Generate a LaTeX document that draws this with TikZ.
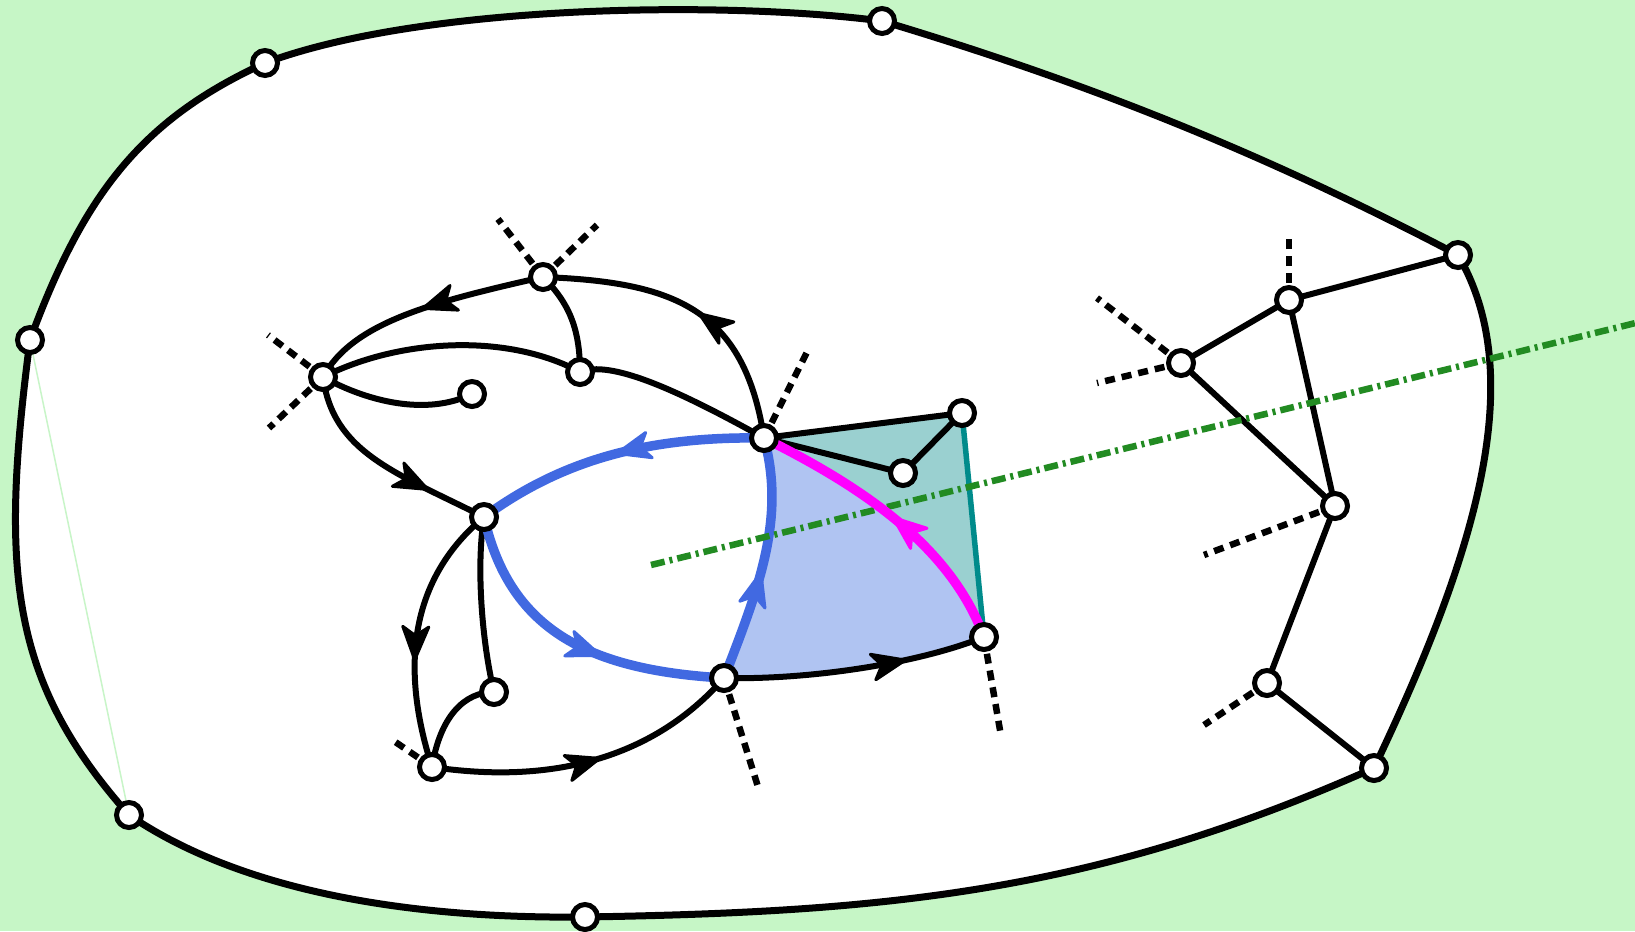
\documentclass[tikz,border=0pt]{standalone}
\usetikzlibrary{decorations.markings,backgrounds}
\definecolor{bgc}{RGB}{198,246,198}
\definecolor{tealfill}{RGB}{154,208,208}
\definecolor{lav}{RGB}{176,196,242}
\definecolor{royal}{RGB}{65,105,225}
\definecolor{tealline}{RGB}{0,139,139}
\definecolor{forest}{RGB}{34,139,34}
\definecolor{faintg}{RGB}{200,245,200}
\definecolor{mag}{RGB}{255,0,255}
\newcommand\midtip{\filldraw[line width=3bp,line join=round] (0,0) -- (-33,-13) -- (-24,0) -- (-33,13) -- cycle;}
\begin{document}
\begin{tikzpicture}[x=1bp,y=-1bp,
  vtx/.style={circle,draw=black,fill=white,line width=5bp,minimum size=25bp,inner sep=0pt},
  edge/.style={color=black,line width=6bp},
  bedge/.style={color=royal,line width=9.5bp},
  medge/.style={color=mag,line width=9.5bp},
  stub/.style={draw=black,line width=6.5bp,dash pattern=on 10bp off 7bp},
  axisline/.style={draw=forest,line width=6.5bp,dash pattern=on 14bp off 5bp on 3bp off 5bp},
  arr/.style={postaction={decorate},decoration={markings,mark=at position #1 with {\midtip}}}
]
\useasboundingbox (0,0) rectangle (1635,931);
% outer boundary nodes
\node[vtx] (B1) at (265,63) {};
\node[vtx] (B2) at (882,21) {};
\node[vtx] (B3) at (1458,255) {};
\node[vtx] (B4) at (1374,768) {};
\node[vtx] (B5) at (585,917) {};
\node[vtx] (B6) at (129,815) {};
\node[vtx] (B7) at (30,340) {};
% inner nodes
\node[vtx] (A) at (323,377) {};
\node[vtx] (T) at (543,277) {};
\node[vtx] (M) at (580,372) {};
\node[vtx] (L) at (472,394) {};
\node[vtx] (P) at (484,517) {};
\node[vtx] (Q) at (494,692) {};
\node[vtx] (R) at (432,767) {};
\node[vtx] (C) at (764,438) {};
\node[vtx] (D) at (724,678) {};
\node[vtx] (E) at (984,637) {};
\node[vtx] (F) at (962,413) {};
\node[vtx] (G) at (903,473) {};
\node[vtx] (H) at (1289,300) {};
\node[vtx] (I) at (1181,363) {};
\node[vtx] (J) at (1335,506) {};
\node[vtx] (K) at (1267,683) {};
% free ends
\coordinate (sT1) at (498,219);
\coordinate (sT2) at (597,225);
\coordinate (sA1) at (268,335);
\coordinate (sA2) at (269,428);
\coordinate (sC) at (807,352);
\coordinate (sR) at (391,739);
\coordinate (sD) at (759,790);
\coordinate (sE) at (1001,736);
\coordinate (sH) at (1289,235);
\coordinate (sI1) at (1097,298);
\coordinate (sI2) at (1097,383);
\coordinate (sJ) at (1204,555);
\coordinate (sK) at (1204,725);
\coordinate (gS) at (651,565);
\coordinate (gE) at (1660,317);
\begin{scope}[on background layer]
\clip (0,0) rectangle (1635,931);
\fill[bgc] (0,0) rectangle (1635,931);
% outer region
\path[fill=white,draw=black,line width=7bp,line join=round]
  (B1.center) .. controls (420,5) and (720,0) .. (B2.center)
  .. controls (1082,81) and (1258,150) .. (B3.center)
  .. controls (1528,375) and (1479,548) .. (B4.center)
  .. controls (1094,893) and (885,912) .. (B5.center)
  .. controls (405,919) and (239,890) .. (B6.center)
  .. controls (9,680) and (0,570) .. (B7.center)
  .. controls (85,190) and (145,118) .. (B1.center) -- cycle;
\draw[faintg,line width=1.5bp] (B7.center) -- (B6.center);
% fills
\fill[tealfill] (C.center) -- (F.center) -- (E.center) -- cycle;
\fill[lav] (C.center) .. controls (786,518) and (759,588) .. (D.center)
  .. controls (804,680) and (914,665) .. (E.center)
  .. controls (949,542) and (854,483) .. (C.center) -- cycle;
% stubs
\foreach \n/\s in {T/sT1,T/sT2,A/sA1,A/sA2,C/sC,R/sR,D/sD,E/sE,H/sH,I/sI1,I/sI2,J/sJ,K/sK}
  \draw[stub] (\n.center) -- (\s);
% black edges
\draw[edge,arr=0.5] (T.center) .. controls (433,302) and (353,322) .. (A.center);
\draw[edge,arr=0.47] (C.center) .. controls (744,308) and (673,282) .. (T.center);
\draw[edge] (T.center) .. controls (568,302) and (580,327) .. (M.center);
\draw[edge] (A.center) .. controls (403,337) and (510,334) .. (M.center);
\draw[edge] (M.center) .. controls (610,360) and (674,388) .. (C.center);
\draw[edge] (A.center) .. controls (368,402) and (427,416) .. (L.center);
\draw[edge,arr=0.72] (A.center) .. controls (333,452) and (394,472) .. (P.center);
\draw[edge,arr=0.6] (P.center) .. controls (404,584) and (403,677) .. (R.center);
\draw[edge] (P.center) .. controls (476,567) and (482,642) .. (Q.center);
\draw[edge] (Q.center) .. controls (464,692) and (440,717) .. (R.center);
\draw[edge,arr=0.53] (R.center) .. controls (552,785) and (654,758) .. (D.center);
\draw[edge,arr=0.69] (D.center) .. controls (804,680) and (914,665) .. (E.center);
\draw[edge] (C.center) -- (F.center);
\draw[edge] (C.center) -- (G.center);
\draw[edge] (G.center) -- (F.center);
\draw[tealline,line width=5.5bp] (F.center) -- (E.center);
% right cluster
\draw[edge] (B3.center) -- (H.center);
\draw[edge] (H.center) -- (I.center);
\draw[edge] (H.center) -- (J.center);
\draw[edge] (I.center) -- (J.center);
\draw[edge] (J.center) -- (K.center);
\draw[edge] (K.center) -- (B4.center);
% blue edges
\draw[bedge,arr=0.5] (C.center) .. controls (644,436) and (559,462) .. (P.center);
\draw[bedge,arr=0.6] (P.center) .. controls (509,627) and (584,670) .. (D.center);
\draw[bedge,arr=0.45] (D.center) .. controls (759,588) and (786,518) .. (C.center);
% axis
\draw[axisline] (gS) -- (gE);
% magenta
\draw[medge,arr=0.5] (E.center) .. controls (949,542) and (854,483) .. (C.center);
\end{scope}
\end{tikzpicture}
\end{document}
